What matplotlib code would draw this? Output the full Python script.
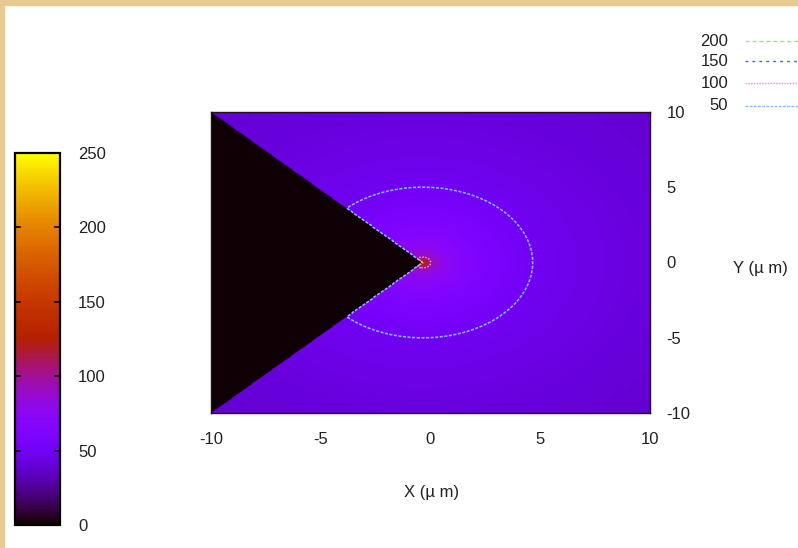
import numpy as np
import matplotlib.pyplot as plt
from matplotlib.patches import Rectangle
from matplotlib.lines import Line2D

plt.rcParams['font.family'] = ['Liberation Sans', 'DejaVu Sans']
plt.rcParams['axes.unicode_minus'] = False

# radial profile of the field measured from the wedge tip (um -> value)
radius = [0.0, 0.15, 0.3, 0.5, 1.0, 2.5, 5.0, 7.5, 10.0, 15.0]
level = [140, 125, 104, 90, 76, 62, 50, 45, 42, 38]
wedge_level = 1.5

# wedge (notch) geometry
tip_x, tip_y = -0.35, 0.0
wedge_corner_x, wedge_half_open = -10.0, 10.0

contour_levels = [50, 100, 150, 200]
contour_colors = ['#86bdf8', '#e58ee5', '#4a5cf5', '#a8dd98']
contour_styles = [(0, (2, 1)), (0, (1, 1)), (0, (2, 3)), (0, (3, 2))]
legend_levels = [200, 150, 100, 50]

cbar_ticks = [0, 50, 100, 150, 200, 250]
axis_ticks = [-10, -5, 0, 5, 10]

x = np.linspace(-10, 10, 600)
y = np.linspace(-10, 10, 600)
X, Y = np.meshgrid(x, y)
R = np.hypot(X - tip_x, Y - tip_y)
Z = np.interp(R, radius, level)
slope = wedge_half_open / (tip_x - wedge_corner_x)
inside = (X < tip_x) & (np.abs(Y - tip_y) < (tip_x - X) * slope)
Z[inside] = wedge_level

fig = plt.figure(figsize=(7.98, 5.48), dpi=100)

# paper strips along the top and left edges
fig.patches.append(Rectangle((0, 1 - 5 / 548), 1, 5 / 548, transform=fig.transFigure,
                             color='#e8cb92', zorder=0))
fig.patches.append(Rectangle((0, 0), 4 / 798, 1, transform=fig.transFigure,
                             color='#e8cb92', zorder=0))

ax = fig.add_axes([211 / 798, 1 - 413 / 548, 439 / 798, 301 / 548])
im = ax.imshow(Z, extent=(-10, 10, -10, 10), origin='lower', cmap='gnuplot',
               vmin=0, vmax=250, aspect='auto', interpolation='bilinear')
ax.contour(X, Y, Z, levels=contour_levels, colors=contour_colors,
           linestyles=contour_styles, linewidths=1.1)
ax.set_xlim(-10, 10)
ax.set_ylim(-10, 10)
ax.set_xticks(axis_ticks)
ax.set_yticks(axis_ticks)
ax.yaxis.tick_right()
ax.tick_params(length=0, labelsize=12, colors='#222222')
ax.tick_params(axis='x', pad=14)
ax.tick_params(axis='y', pad=12)
for lab in ax.get_yticklabels():
    lab.set_horizontalalignment('left')
for s in ax.spines.values():
    s.set_linewidth(1.0)
    s.set_color('#201020')

fig.text(432 / 798, 1 - 493 / 548, 'X (\u00b5 m)', ha='center', va='center',
         fontsize=12, color='#222222')
fig.text(760 / 798, 1 - 268 / 548, 'Y (\u00b5 m)', ha='center', va='center',
         fontsize=12, color='#222222')

# colour box
cax = fig.add_axes([15 / 798, 1 - 525 / 548, 45 / 798, 372 / 548])
cb = fig.colorbar(im, cax=cax, ticks=cbar_ticks)
cb.outline.set_linewidth(1.6)
cb.outline.set_edgecolor('black')
cax.tick_params(axis='y', length=0, labelsize=12, pad=13, colors='#222222')
for t in cbar_ticks[1:-1]:
    cax.plot([0, 0.12], [t, t], color='black', lw=1.2, transform=cax.get_yaxis_transform())
    cax.plot([0.88, 1], [t, t], color='black', lw=1.2, transform=cax.get_yaxis_transform())

# contour key in the top right corner
key_y = [41, 61, 83, 106]
for lv, ky in zip(legend_levels, key_y):
    i = contour_levels.index(lv)
    yf = 1 - ky / 548
    fig.text(728 / 798, yf, str(lv), ha='right', va='center', fontsize=12, color='#222222')
    fig.add_artist(Line2D([745 / 798, 1.0], [yf, yf], transform=fig.transFigure,
                          color=contour_colors[i], linestyle=contour_styles[i], lw=1.0))

fig.savefig('out.png', dpi=100, facecolor='white')
